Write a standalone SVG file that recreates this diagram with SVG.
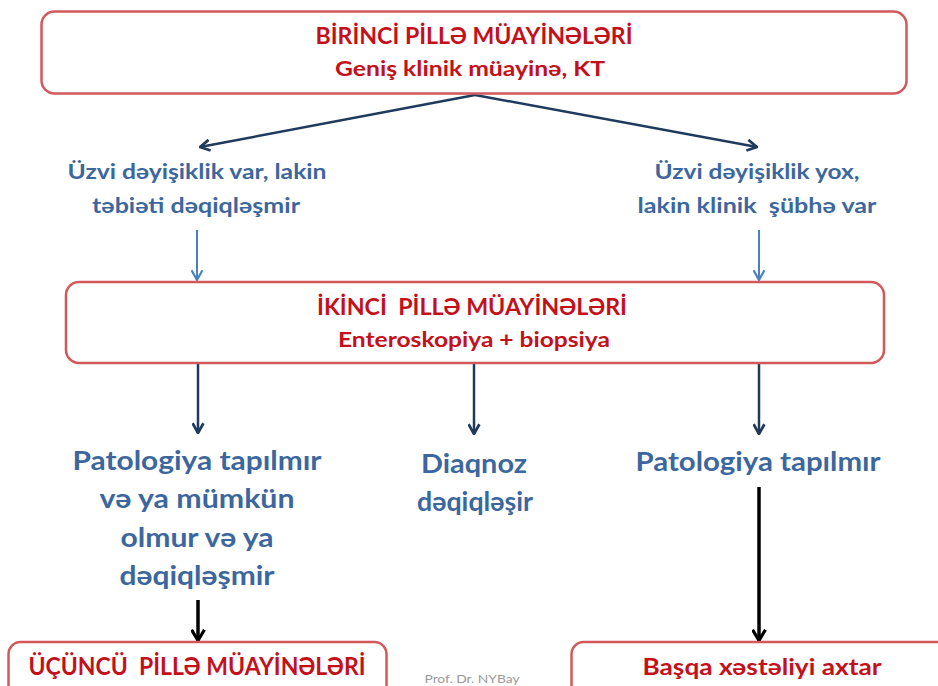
<svg xmlns="http://www.w3.org/2000/svg" width="938" height="686" viewBox="0 0 938 686">
<style>
.box{fill:#fff;stroke:#d2595b;stroke-width:2.5}
.red{fill:#c4101a;font-family:Lato,"Open Sans","Liberation Sans",sans-serif;font-weight:bold}
.blue{fill:#3c679e;font-family:Lato,"Open Sans","Liberation Sans",sans-serif;font-weight:bold}
.navy{stroke:#1e3a5c;stroke-width:2.5;fill:none}
.lblue{stroke:#4a7fc0;stroke-width:2;fill:none}
.blk{stroke:#000;stroke-width:3.5;fill:none}
.foot{fill:#9a9a9a;font-family:Lato,"Open Sans","Liberation Sans",sans-serif;font-size:11px}
</style>
<defs>
<marker id="mNavy" markerUnits="userSpaceOnUse" viewBox="0 0 12 12" refX="11" refY="6" markerWidth="13" markerHeight="13" orient="auto"><path d="M2,1 L11,6 L2,11" fill="none" stroke="#1e3a5c" stroke-width="2.5"/></marker>
<marker id="mBlue" markerUnits="userSpaceOnUse" viewBox="0 0 12 12" refX="11" refY="6" markerWidth="13" markerHeight="13" orient="auto"><path d="M2,1 L11,6 L2,11" fill="none" stroke="#4a7fc0" stroke-width="2"/></marker>
<marker id="mBlk" markerUnits="userSpaceOnUse" viewBox="0 0 14 14" refX="12.5" refY="7" markerWidth="15" markerHeight="15" orient="auto"><path d="M2,1 L12,7 L2,13" fill="none" stroke="#000" stroke-width="3"/></marker>
</defs>

<g id="connectors">
<path class="navy" d="M475,95 L200,147" marker-end="url(#mNavy)"/>
<path class="navy" d="M475,95 L757,147" marker-end="url(#mNavy)"/>
<path class="lblue" d="M197,230 L197,280" marker-end="url(#mBlue)"/>
<path class="lblue" d="M759,230 L759,280" marker-end="url(#mBlue)"/>
<path class="navy" d="M198,364 L198,433" marker-end="url(#mNavy)"/>
<path class="navy" d="M474,364 L474,434" marker-end="url(#mNavy)"/>
<path class="navy" d="M759,364 L759,434" marker-end="url(#mNavy)"/>
<path class="blk" d="M198,600 L198,641" marker-end="url(#mBlk)"/>
<path class="blk" d="M759,487 L759,641" marker-end="url(#mBlk)"/>
</g>

<g id="step1">
<rect class="box" x="41.5" y="11.5" width="865" height="82" rx="13"/>
<text class="red" x="474" y="44" font-size="22" text-anchor="middle" textLength="317" lengthAdjust="spacingAndGlyphs">BİRİNCİ PİLLƏ MÜAYİNƏLƏRİ</text>
<text class="red" x="470" y="76" font-size="21" text-anchor="middle" textLength="270" lengthAdjust="spacingAndGlyphs">Geniş klinik müayinə, KT</text>
</g>

<g id="left-condition">
<text class="blue" x="197" y="179" font-size="20" text-anchor="middle" textLength="259" lengthAdjust="spacingAndGlyphs">Üzvi dəyişiklik var, lakin</text>
<text class="blue" x="196" y="213" font-size="20" text-anchor="middle" textLength="208" lengthAdjust="spacingAndGlyphs">təbiəti dəqiqləşmir</text>
</g>

<g id="right-condition">
<text class="blue" x="757" y="179" font-size="20" text-anchor="middle" textLength="205" lengthAdjust="spacingAndGlyphs">Üzvi dəyişiklik yox,</text>
<text class="blue" x="757" y="213" font-size="20" text-anchor="middle" textLength="239" lengthAdjust="spacingAndGlyphs" xml:space="preserve">lakin klinik  şübhə var</text>
</g>

<g id="step2">
<rect class="box" x="66" y="282" width="818" height="81" rx="13"/>
<text class="red" x="472" y="315" font-size="22" text-anchor="middle" textLength="310" lengthAdjust="spacingAndGlyphs" xml:space="preserve">İKİNCİ  PİLLƏ MÜAYİNƏLƏRİ</text>
<text class="red" x="474" y="347" font-size="21" text-anchor="middle" textLength="272" lengthAdjust="spacingAndGlyphs">Enteroskopiya + biopsiya</text>
</g>

<g id="result-left">
<text class="blue" x="197" y="470" font-size="26" text-anchor="middle" textLength="249" lengthAdjust="spacingAndGlyphs">Patologiya tapılmır</text>
<text class="blue" x="197" y="508" font-size="26" text-anchor="middle" textLength="195" lengthAdjust="spacingAndGlyphs">və ya mümkün</text>
<text class="blue" x="197" y="547" font-size="26" text-anchor="middle" textLength="153" lengthAdjust="spacingAndGlyphs">olmur və ya</text>
<text class="blue" x="197" y="585" font-size="26" text-anchor="middle" textLength="155" lengthAdjust="spacingAndGlyphs">dəqiqləşmir</text>
</g>

<g id="result-middle">
<text class="blue" x="474" y="473" font-size="26" text-anchor="middle" textLength="106" lengthAdjust="spacingAndGlyphs">Diaqnoz</text>
<text class="blue" x="475" y="511" font-size="26" text-anchor="middle" textLength="116" lengthAdjust="spacingAndGlyphs">dəqiqləşir</text>
</g>

<g id="result-right">
<text class="blue" x="758" y="471" font-size="26" text-anchor="middle" textLength="245" lengthAdjust="spacingAndGlyphs">Patologiya tapılmır</text>
</g>

<g id="step3">
<rect class="box" x="8.5" y="642" width="378" height="80" rx="12"/>
<text class="red" x="197" y="675" font-size="25" text-anchor="middle" textLength="337" lengthAdjust="spacingAndGlyphs" xml:space="preserve">ÜÇÜNCÜ  PİLLƏ MÜAYİNƏLƏRİ</text>
</g>

<g id="other-disease">
<rect class="box" x="571.5" y="642" width="400" height="80" rx="12"/>
<text class="red" x="762" y="675" font-size="23" text-anchor="middle" textLength="239" lengthAdjust="spacingAndGlyphs">Başqa xəstəliyi axtar</text>
</g>

<text class="foot" x="472" y="683" text-anchor="middle" textLength="95" lengthAdjust="spacingAndGlyphs">Prof. Dr. NYBay</text>
</svg>
